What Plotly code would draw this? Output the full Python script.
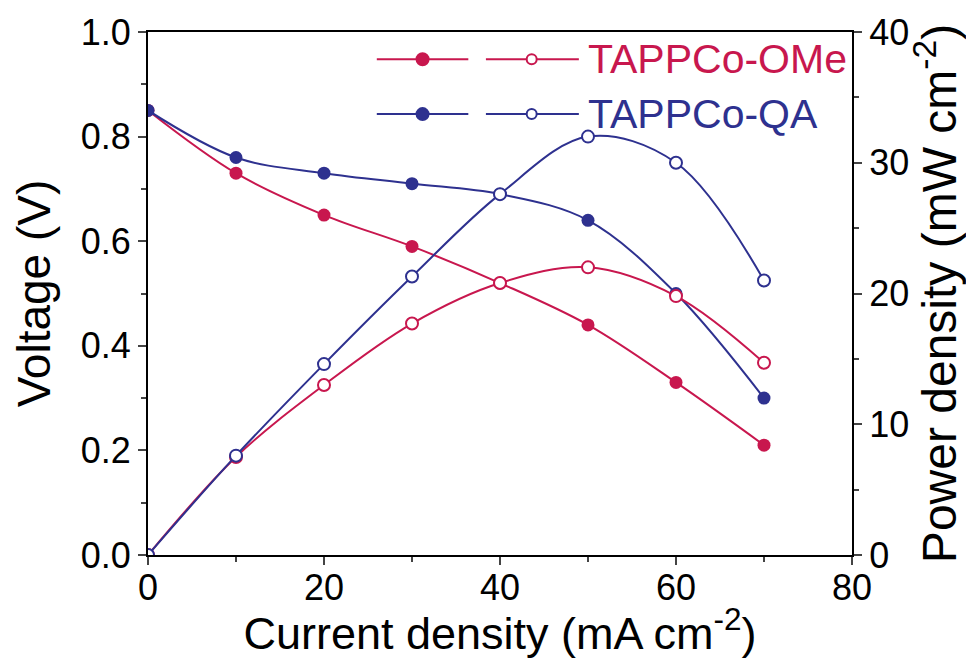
import plotly.graph_objects as go

current = [0, 10, 20, 30, 40, 50, 60, 70]
v_ome = [0.85, 0.73, 0.65, 0.59, 0.52, 0.44, 0.33, 0.21]
v_qa = [0.85, 0.76, 0.73, 0.71, 0.69, 0.64, 0.50, 0.30]
p_ome = [0.0, 7.5, 13.0, 17.7, 20.8, 22.0, 19.8, 14.7]
p_qa = [0.0, 7.6, 14.6, 21.3, 27.6, 32.0, 30.0, 21.0]

RED = "#c8174e"
BLUE = "#2e318f"
FONT = "Liberation Sans, Arial, sans-serif"

fig = go.Figure()

fig.add_trace(go.Scatter(x=current, y=v_ome, mode="lines+markers", line=dict(color=RED, width=2, shape="spline"),
                         marker=dict(symbol="circle", size=13, color=RED), showlegend=False))
fig.add_trace(go.Scatter(x=current, y=v_qa, mode="lines+markers", line=dict(color=BLUE, width=2, shape="spline"),
                         marker=dict(symbol="circle", size=13, color=BLUE), showlegend=False))
fig.add_trace(go.Scatter(x=current, y=p_ome, yaxis="y2", mode="lines+markers", line=dict(color=RED, width=2, shape="spline"),
                         marker=dict(symbol="circle", size=12, color="white", line=dict(color=RED, width=2)), showlegend=False))
fig.add_trace(go.Scatter(x=current, y=p_qa, yaxis="y2", mode="lines+markers", line=dict(color=BLUE, width=2, shape="spline"),
                         marker=dict(symbol="circle", size=12, color="white", line=dict(color=BLUE, width=2)), showlegend=False))

# custom legend
legend_rows = [("TAPPCo-OMe", RED, 0.948), ("TAPPCo-QA", BLUE, 0.843)]
shapes = []
annotations = []
for name, col, yp in legend_rows:
    for x0, x1, xc, filled in [(0.325, 0.455, 0.39, True), (0.48, 0.612, 0.545, False)]:
        shapes.append(dict(type="line", xref="paper", yref="paper", x0=x0, x1=x1, y0=yp, y1=yp,
                           line=dict(color=col, width=2)))
        r = 6 if filled else 5
        shapes.append(dict(type="circle", xref="paper", yref="paper", xsizemode="pixel", ysizemode="pixel",
                           xanchor=xc, yanchor=yp, x0=-r, x1=r, y0=-r, y1=r,
                           fillcolor=col if filled else "white", line=dict(color=col, width=2)))
    annotations.append(dict(xref="paper", yref="paper", x=0.622, y=yp, xanchor="left", yanchor="middle",
                            text=name, showarrow=False, font=dict(family=FONT, size=41, color=col)))

fig.update_layout(
    width=966, height=659,
    margin=dict(l=148, r=114, t=30, b=104),
    paper_bgcolor="white", plot_bgcolor="white",
    font=dict(family=FONT, size=36, color="black"),
    shapes=shapes, annotations=annotations,
    xaxis=dict(range=[0, 80], dtick=20, ticks="outside", ticklen=8, tickwidth=2, showline=True, linecolor="black",
               linewidth=2, mirror=True, showgrid=False, zeroline=False, ticklabelstandoff=-8,
               minor=dict(dtick=10, ticks="outside", ticklen=5, tickwidth=2),
               title=dict(text="Current density (mA cm<sup>-2</sup>)", font=dict(size=45), standoff=0),
               tickfont=dict(size=36)),
    yaxis=dict(range=[0, 1.0], dtick=0.2, tickformat=".1f", ticks="outside", ticklen=8, tickwidth=2, showline=True,
               linecolor="black", linewidth=2, showgrid=False, zeroline=False,
               minor=dict(dtick=0.1, ticks="outside", ticklen=5, tickwidth=2),
               title=dict(text="Voltage (V)", font=dict(size=46), standoff=16),
               tickfont=dict(size=36)),
    yaxis2=dict(range=[0, 40], dtick=10, overlaying="y", side="right", ticks="outside", ticklen=8, tickwidth=2,
                showline=True, linecolor="black", linewidth=2, showgrid=False, zeroline=False,
                minor=dict(dtick=5, ticks="outside", ticklen=5, tickwidth=2),
                title=dict(text="Power density (mW cm<sup>-2</sup>)", font=dict(size=48), standoff=6),
                tickfont=dict(size=36)),
)

fig.write_html("out.html")
